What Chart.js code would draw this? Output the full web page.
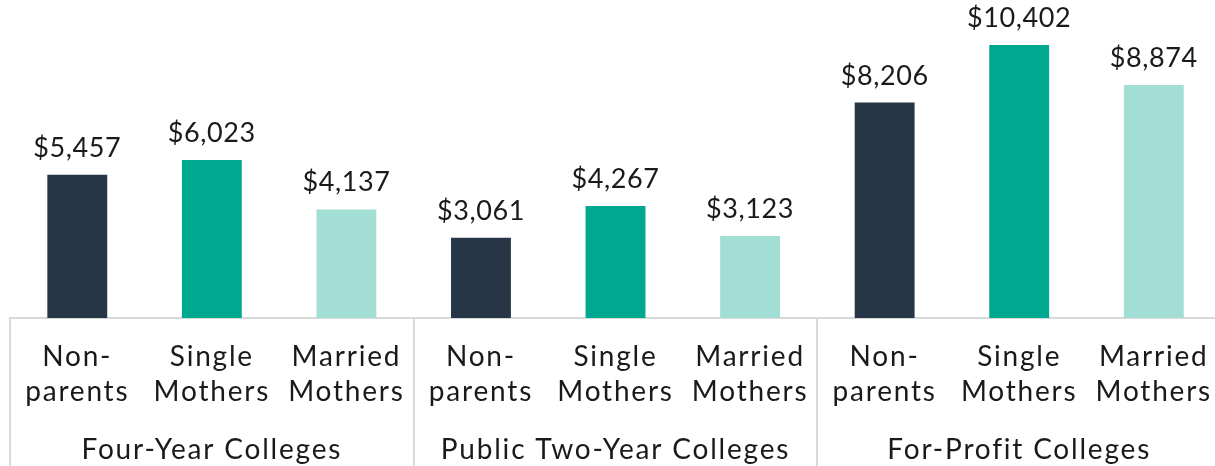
<!DOCTYPE html>
<html>
<head>
<meta charset="utf-8">
<script src="https://cdn.jsdelivr.net/npm/chart.js@4"></script>
<style>
  html, body { margin: 0; padding: 0; background: #fff; overflow: hidden; }
  #wrap { width: 1225px; height: 466px; }
</style>
</head>
<body>
<div id="wrap"><canvas id="costChart"></canvas></div>
<script>
const groups = ['Four-Year Colleges', 'Public Two-Year Colleges', 'For-Profit Colleges'];
const students = [['Non-', 'parents'], ['Single', 'Mothers'], ['Married', 'Mothers']];
const fourYear = [5457, 6023, 4137];
const twoYear = [3061, 4267, 3123];
const forProfit = [8206, 10402, 8874];
const barColors = ['#263646', '#00A88F', '#A3DED4'];

const labels = [];
const values = [];
const colors = [];
[fourYear, twoYear, forProfit].forEach(function (grp) {
    grp.forEach(function (v, i) {
        labels.push(students[i]);
        values.push(v);
        colors.push(barColors[i]);
    });
});

const fontFamily = 'Lato, "Open Sans", sans-serif';

// wider letters, closer to the original Century Gothic look
const spacing = {
    id: 'spacing',
    beforeLayout(chart) { chart.ctx.letterSpacing = '1.8px'; },
    beforeDraw(chart) { chart.ctx.letterSpacing = '1.8px'; }
};

// value labels above each bar
const valueLabels = {
    id: 'valueLabels',
    afterDatasetsDraw(chart) {
        const ctx = chart.ctx;
        const meta = chart.getDatasetMeta(0);
        ctx.save();
        ctx.letterSpacing = '0.6px';
        ctx.font = '27px ' + fontFamily;
        ctx.fillStyle = '#1a1a1a';
        ctx.textAlign = 'center';
        ctx.textBaseline = 'alphabetic';
        meta.data.forEach(function (bar, i) {
            ctx.fillText('$' + values[i].toLocaleString('en-US'), bar.x, bar.y - 18);
        });
        ctx.restore();
    }
};

// vertical lines between the college groups
const groupLines = {
    id: 'groupLines',
    afterDraw(chart) {
        const ctx = chart.ctx;
        const x = chart.scales.x;
        const step = x.getPixelForValue(1) - x.getPixelForValue(0);
        ctx.save();
        ctx.strokeStyle = '#d9d9d9';
        ctx.lineWidth = 2;
        for (let i = 0; i <= values.length; i += students.length) {
            const px = Math.round(x.getPixelForValue(0) - step / 2 + i * step);
            ctx.beginPath();
            ctx.moveTo(px, chart.chartArea.bottom);
            ctx.lineTo(px, chart.height);
            ctx.stroke();
        }
        ctx.restore();
    }
};

new Chart(document.getElementById('costChart').getContext('2d'), {
    type: 'bar',
    data: {
        labels: labels,
        datasets: [{
            data: values,
            backgroundColor: colors,
            categoryPercentage: 1,
            barPercentage: 0.445
        }]
    },
    options: {
        responsive: true,
        maintainAspectRatio: false,
        animation: false,
        layout: { padding: { top: 3, left: 10, right: 0, bottom: 0 } },
        plugins: {
            legend: { display: false },
            tooltip: { enabled: false }
        },
        scales: {
            y: { display: false, min: 0, max: 12000 },
            x: {
                grid: { display: false },
                border: { display: true, color: '#d9d9d9', width: 2 },
                ticks: {
                    color: '#1a1a1a',
                    font: { family: fontFamily, size: 28, lineHeight: 1.27 },
                    padding: 13,
                    maxRotation: 0,
                    autoSkip: false
                },
                afterFit: function (s) { s.height = 104; }
            },
            x2: {
                type: 'category',
                position: 'bottom',
                labels: groups,
                grid: { display: false },
                border: { display: false },
                ticks: {
                    color: '#1a1a1a',
                    font: { family: fontFamily, size: 28 },
                    padding: 3,
                    maxRotation: 0
                },
                afterFit: function (s) { s.height = 44; }
            }
        }
    },
    plugins: [spacing, valueLabels, groupLines]
});
</script>
</body>
</html>
